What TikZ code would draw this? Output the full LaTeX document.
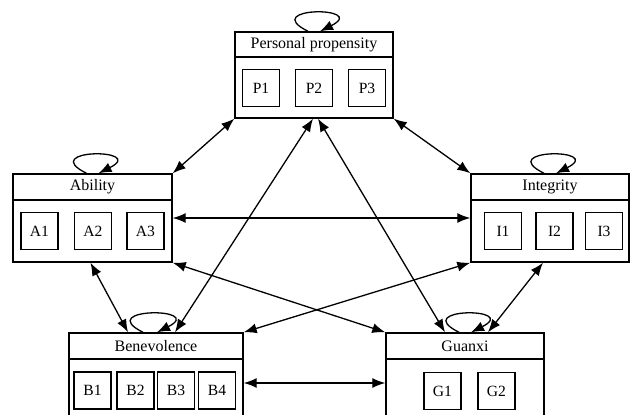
\documentclass[tikz,border=0pt]{standalone}
\usepackage{fontspec}
\setmainfont{Liberation Serif}
\usetikzlibrary{arrows.meta,positioning}
\tikzset{
  group/.style={draw, line width=0.7pt, inner sep=0pt},
  title/.style={draw, line width=0.7pt, minimum height=13pt, inner sep=0pt, anchor=north, font=\fontsize{8}{9}\selectfont},
  item/.style={draw, line width=0.7pt, minimum size=18.5pt, inner sep=0pt, font=\fontsize{7.8}{9}\selectfont},
  arrow/.style={line width=0.65pt, {Latex[length=6.5pt,width=5pt]}-{Latex[length=6.5pt,width=5pt]}},
  selfloop/.style={line width=0.65pt, -{Latex[length=6.5pt,width=5pt]}}
}

\begin{document}
\begin{tikzpicture}[x=0.5pt, y=-0.5pt]
\clip (0,0) rectangle (631,415);

% the five constructs
\node[group, minimum width=79pt, minimum height=43pt] (pers) at (314,75) {};
\node[title, minimum width=79pt, minimum height=12.5pt] (perst) at (pers.north) {Personal propensity};
\node[group, minimum width=79.5pt, minimum height=44pt] (abil) at (92.5,218) {};
\node[title, minimum width=79.5pt] (abilt) at (abil.north) {Ability};
\node[group, minimum width=79pt, minimum height=44pt] (integ) at (550,218) {};
\node[title, minimum width=79pt] (integt) at (integ.north) {Integrity};
\node[group, minimum width=87pt, minimum height=50pt] (bene) at (156,383) {};
\node[title, minimum width=87pt] (benet) at (bene.north) {Benevolence};
\node[group, minimum width=79pt, minimum height=50pt] (guan) at (465,383) {};
\node[title, minimum width=79pt] (guant) at (guan.north) {Guanxi};

% indicators
\foreach \i/\x in {1/261,2/314,3/367} \node[item] (p\i) at (\x,88) {P\i};
\foreach \i/\x in {1/39.5,2/93,3/145.5} \node[item] (a\i) at (\x,231) {A\i};
\foreach \i/\x in {1/503,2/554.5,3/604} \node[item] (i\i) at (\x,231) {I\i};
\foreach \i/\x in {1/92.5,2/135.5,3/176,4/217} \node[item] (b\i) at (\x,390.5) {B\i};
\foreach \i/\x in {1/442.5,2/496.5} \node[item] (g\i) at (\x,391) {G\i};

% self loops
\foreach \n in {pers,abil,integ,guan}
  \draw[selfloop] ([xshift=-3pt]\n.north) .. controls +(-50,-25) and +(50,-25) .. ([xshift=3pt]\n.north);
\draw[selfloop] ([xshift=-6.5pt]bene.north) .. controls +(-50,-25) and +(50,-25) .. ([xshift=0.5pt]bene.north);

% relations
\draw[arrow] (pers.south west) -- (abil.north east);
\draw[arrow] (pers.south east) -- (integ.north west);
\draw[arrow] (abil.east) -- (integ.west);
\draw[arrow] ([xshift=-0.5pt]pers.south) -- ([xshift=9.5pt]bene.north);
\draw[arrow] ([xshift=2pt]pers.south) -- ([xshift=-10pt]guan.north);
\draw[arrow] ([xshift=-1pt]abil.south) -- ([xshift=-14pt]bene.north);
\draw[arrow] ([xshift=-3.5pt]integ.south) -- ([xshift=11.5pt]guan.north);
\draw[arrow] (abil.south east) -- (guan.north west);
\draw[arrow] (integ.south west) -- (bene.north east);
\draw[arrow] (bene.east) -- (guan.west);
\end{tikzpicture}
\end{document}
